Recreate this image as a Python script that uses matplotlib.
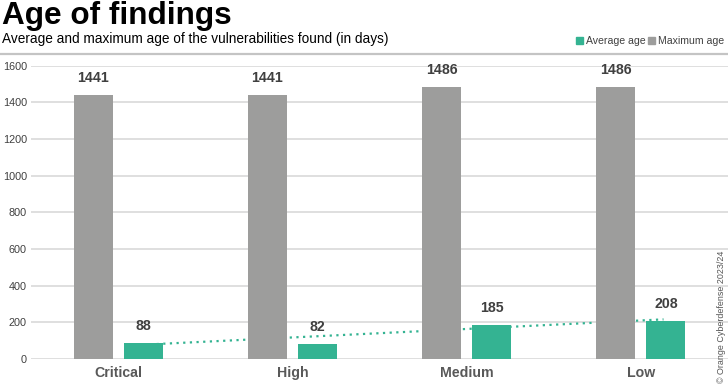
import numpy as np
import matplotlib
matplotlib.use("Agg")
import matplotlib.pyplot as plt
from matplotlib.lines import Line2D
from matplotlib.patches import Rectangle

plt.rcParams['font.family'] = ['Liberation Sans', 'DejaVu Sans']

categories = ["Critical", "High", "Medium", "Low"]
max_age = [1441, 1441, 1486, 1486]
avg_age = [88, 82, 185, 208]
yticks = [0, 200, 400, 600, 800, 1000, 1200, 1400, 1600]

GRAY = "#9d9d9c"
GREEN = "#34b392"
TXT = "#404040"

fig = plt.figure(figsize=(7.28, 3.88), dpi=100)
ax = fig.add_axes([31/728, 29/388, 697/728, (359-65.7)/388])

x = np.arange(len(categories))
off = 0.144
w = 0.224
ax.bar(x - off, max_age, width=w, color=GRAY, zorder=3)
ax.bar(x + off, avg_age, width=w, color=GREEN, zorder=3)

for xi, v in zip(x - off, max_age):
    ax.text(xi, v + 55, str(v), ha="center", va="bottom", fontsize=10.2,
            fontweight="bold", color=TXT)
for xi, v in zip(x + off, avg_age):
    ax.text(xi, v + 55, str(v), ha="center", va="bottom", fontsize=10.2,
            fontweight="bold", color=TXT)

# linear trend line of average age
coef = np.polyfit(x, avg_age, 1)
tx = np.linspace(off, 3.13, 50)
ax.plot(tx, np.polyval(coef, tx), color=GREEN, lw=1.6,
        linestyle=(0, (1, 2.0)), zorder=2)

ax.set_xlim(-0.5, 3.5)
ax.set_ylim(0, 1600)
ax.set_yticks(yticks)
ax.set_yticklabels([str(t) for t in yticks])
ax.set_xticks(x)
ax.set_xticklabels(categories)
for lab in ax.get_xticklabels():
    lab.set_fontweight("bold")
    lab.set_fontsize(10.2)
    lab.set_color("#595959")
for lab in ax.get_yticklabels():
    lab.set_fontsize(7.8)
    lab.set_color(TXT)
ax.tick_params(axis="both", length=0)
ax.tick_params(axis="y", pad=3)
ax.tick_params(axis="x", pad=5)
ax.grid(axis="y", color="#dcdcdc", lw=1.3, zorder=0)
ax.set_axisbelow(True)
for s in ax.spines.values():
    s.set_visible(False)

# header
fig.text(2/728, 1 - 16/388, "Age of findings", fontsize=22.7, fontweight="bold",
         color="black", ha="left", va="center")
fig.text(2/728, 1 - 39/388, "Average and maximum age of the vulnerabilities found (in days)",
         fontsize=9.85, color="black", ha="left", va="center")
fig.add_artist(Line2D([0, 1], [1 - 53.5/388, 1 - 53.5/388], transform=fig.transFigure,
                      color="#c4c4c4", lw=1.6))

# legend
ly = 1 - 41/388
fig.add_artist(Rectangle((576/728, ly - 3.5/388), 7/728, 7/388, transform=fig.transFigure,
                         color=GREEN))
t1 = fig.text(586/728, ly, "Average age", fontsize=7.6, color=TXT, ha="left", va="center")
fig.add_artist(Rectangle((648/728, ly - 3.5/388), 7/728, 7/388, transform=fig.transFigure,
                         color=GRAY))
fig.text(658/728, ly, "Maximum age", fontsize=7.6, color=TXT, ha="left", va="center")

# copyright
fig.text(722/728, 5/388, "© Orange Cyberdefense 2023/24", rotation=90, fontsize=6.4,
         color="#555555", ha="center", va="bottom")

fig.savefig("out.png", dpi=100)
